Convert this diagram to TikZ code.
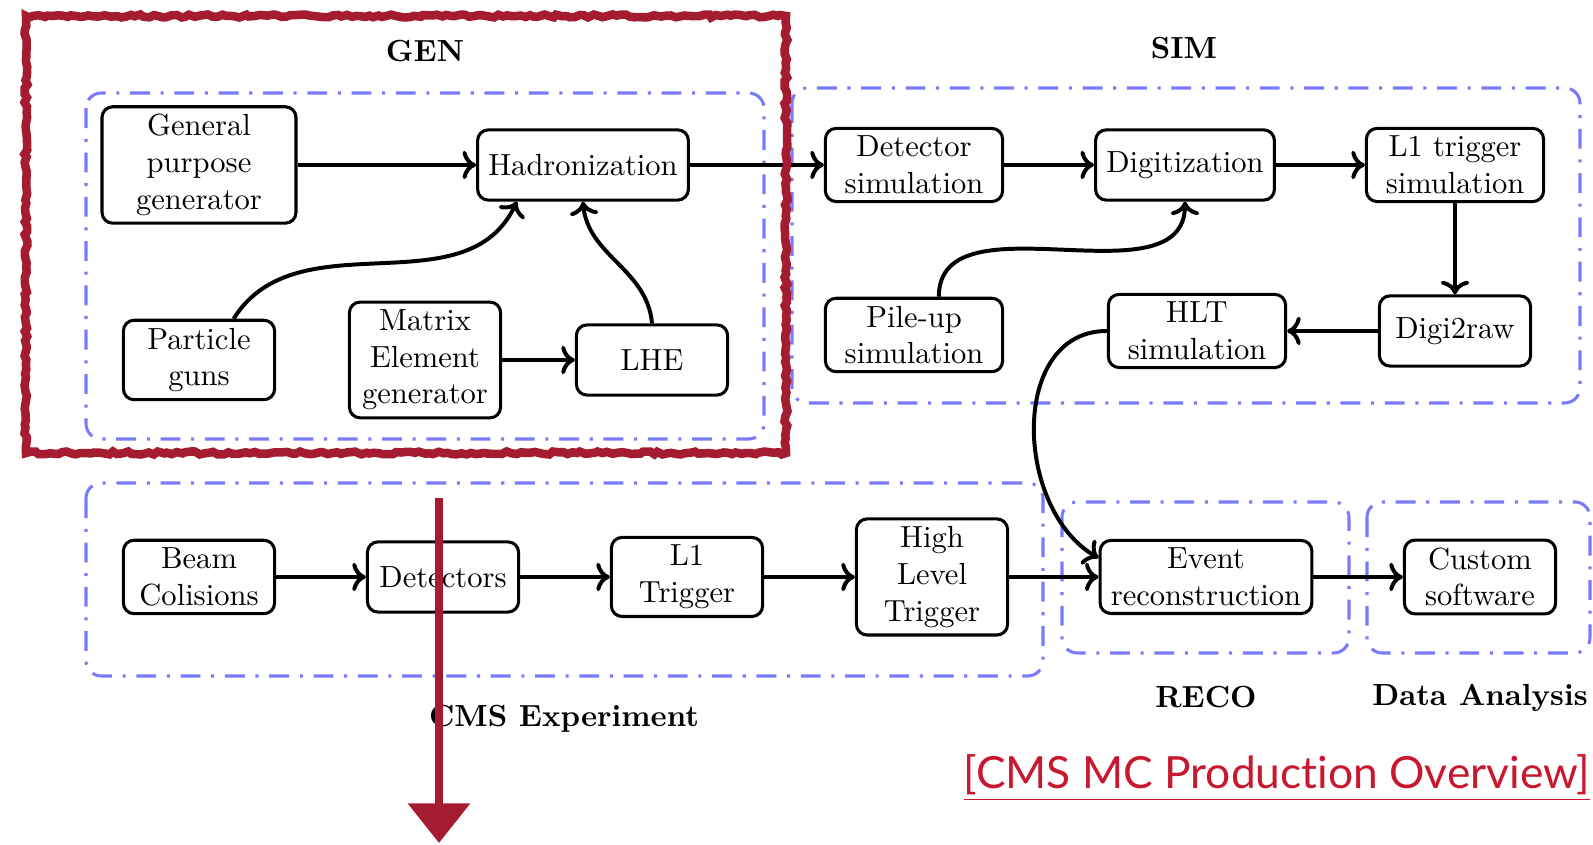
\documentclass[tikz,border=0pt]{standalone}
\usepackage{fontspec}
\newfontfamily\linkfont[Ligatures=NoCommon]{Lato}
\usepackage{tikz}
\usetikzlibrary{arrows.meta,decorations.pathmorphing,calc}
\definecolor{groupblue}{RGB}{122,122,250}
\definecolor{framered}{RGB}{165,28,48}
\definecolor{linkred}{RGB}{200,24,48}

\begin{document}
\begin{tikzpicture}[>=To,x=0.0115cm,y=0.0115cm,
    box/.style={draw,line width=1pt,rounded corners=3.5pt,align=center,inner xsep=3.5pt,inner ysep=2.5pt,minimum width=49.5pt,minimum height=23pt},
    simbox/.style={box,minimum width=58pt},
    group/.style={draw=groupblue,line width=1pt,rounded corners=5pt,dash pattern=on 6.5pt off 3.5pt on 1pt off 3.5pt},
    flow/.style={->,line width=1.3pt},
    title/.style={font=\bfseries}]
  \useasboundingbox (0,0) rectangle (1593,845);
  % groups
  \draw[group] (86,752) rectangle (764,406); % GEN
  \draw[group] (792,757) rectangle (1580,442); % SIM
  \draw[group] (86,362) rectangle (1043,169); % CMS
  \draw[group] (1062,343) rectangle (1349,192); % RECO
  \draw[group] (1367,343) rectangle (1590,192); % Data Analysis
  \node[title] (gentitle) at (425,794) {GEN};
  \node[title] (simtitle) at (1184,797) {SIM};
  \node[title] (cmstitle) at (564,126) {CMS Experiment};
  \node[title] (recotitle) at (1206,148) {RECO};
  \node[title] (datitle) at (1480,147) {Data Analysis};
  % GEN
  \node[box,minimum width=63.5pt] (gpg) at (199,680) {General\\purpose\\generator};
  \node[box] (hadr) at (583,680) {Hadronization};
  \node[box] (guns) at (199,485) {Particle\\guns};
  \node[box] (matrix) at (425,485) {Matrix\\Element\\generator};
  \node[box] (lhe) at (652,485) {LHE};
  % SIM
  \node[simbox] (detsim) at (914,680) {Detector\\simulation};
  \node[simbox] (digi) at (1185,680) {Digitization};
  \node[simbox] (l1sim) at (1455,680) {L1 trigger\\simulation};
  \node[simbox] (pileup) at (914,510) {Pile-up\\simulation};
  \node[simbox] (hltsim) at (1197,514) {HLT\\simulation};
  \node[box] (digiraw) at (1455,514) {Digi2raw};
  % CMS, RECO, analysis
  \node[box] (beam) at (199,268) {Beam\\Colisions};
  \node[box] (detectors) at (443,268) {Detectors};
  \node[box] (l1trig) at (687,268) {L1\\Trigger};
  \node[box] (hlt) at (932,268) {High\\Level\\Trigger};
  \node[box] (reco) at (1206,268) {Event\\reconstruction};
  \node[box] (custom) at (1480,268) {Custom\\software};
  % connections
  \draw[flow] (gpg) -- (hadr);
  \draw[flow] (guns.50) to[out=58,in=-115] (hadr.209);
  \draw[flow] (matrix) -- (lhe);
  \draw[flow] (lhe.north) to[out=95,in=-85] (hadr.south);
  \draw[flow] (hadr) -- (detsim);
  \draw[flow] (detsim) -- (digi);
  \draw[flow] (digi) -- (l1sim);
  \draw[flow] (pileup.57) to[out=90,in=-90] (digi.south);
  \draw[flow] (l1sim) -- (digiraw);
  \draw[flow] (digiraw) -- (hltsim);
  \draw[flow] (hltsim.west) to[out=180,in=150,looseness=1.1] (reco.170);
  \draw[flow] (beam) -- (detectors);
  \draw[flow] (detectors) -- (l1trig);
  \draw[flow] (l1trig) -- (hlt);
  \draw[flow] (hlt) -- (reco);
  \draw[flow] (reco) -- (custom);
  % annotation
  \node[text=linkred,font=\linkfont\fontsize{14.5}{17}\selectfont] (source) at (1277,67) {\underline{[CMS MC Production Overview]}};
  \draw[framered,line width=2.8pt,decorate,decoration={random steps,segment length=1.5pt,amplitude=0.5pt}] (26,829) rectangle (786,392);
  \coordinate (ptrtop) at (439,347);
  \coordinate (ptrend) at (439,2);
  \draw[framered,line width=2.4pt,-{Triangle[width=20pt,length=13pt]}] (ptrtop) -- (ptrend);
\end{tikzpicture}
\end{document}
